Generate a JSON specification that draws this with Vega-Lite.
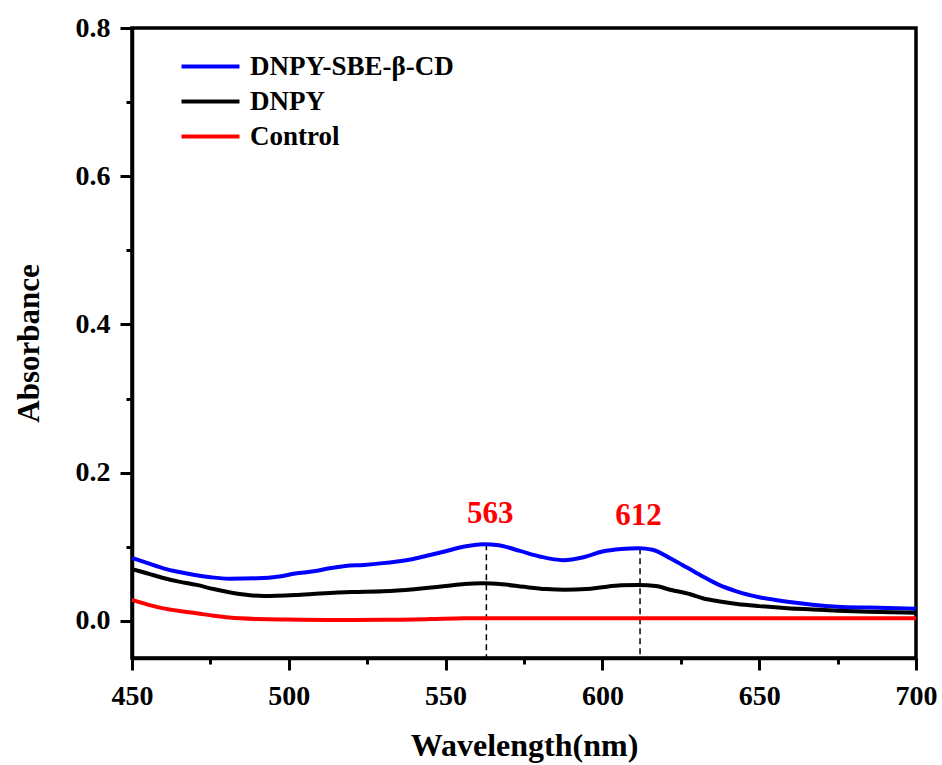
{
  "$schema": "https://vega.github.io/schema/vega-lite/v6.json",
  "width": 784,
  "height": 630,
  "autosize": {"type": "none"},
  "padding": {"left": 132, "top": 28, "right": 26, "bottom": 107},
  "background": "white",
  "config": {
    "view": {"stroke": "black", "strokeWidth": 3.5},
    "font": "Liberation Serif",
    "axis": {
      "domainColor": "black", "domainWidth": 3.5, "tickColor": "black", "tickWidth": 3,
      "labelFont": "Liberation Serif", "labelFontWeight": "bold", "labelFontSize": 28, "labelColor": "black",
      "titleFont": "Liberation Serif", "titleFontWeight": "bold", "titleColor": "black", "grid": false
    }
  },
  "resolve": {"axis": {"x": "independent", "y": "independent"}},
  "datasets": {
    "spectra": [
      {"series": "DNPY-SBE-β-CD", "wl": 450, "a": 0.085},
      {"series": "DNPY-SBE-β-CD", "wl": 455, "a": 0.078},
      {"series": "DNPY-SBE-β-CD", "wl": 460, "a": 0.071},
      {"series": "DNPY-SBE-β-CD", "wl": 465, "a": 0.066},
      {"series": "DNPY-SBE-β-CD", "wl": 470, "a": 0.062},
      {"series": "DNPY-SBE-β-CD", "wl": 475, "a": 0.059},
      {"series": "DNPY-SBE-β-CD", "wl": 481, "a": 0.057},
      {"series": "DNPY-SBE-β-CD", "wl": 490, "a": 0.0575},
      {"series": "DNPY-SBE-β-CD", "wl": 497, "a": 0.060},
      {"series": "DNPY-SBE-β-CD", "wl": 502, "a": 0.064},
      {"series": "DNPY-SBE-β-CD", "wl": 508, "a": 0.067},
      {"series": "DNPY-SBE-β-CD", "wl": 513, "a": 0.071},
      {"series": "DNPY-SBE-β-CD", "wl": 518, "a": 0.074},
      {"series": "DNPY-SBE-β-CD", "wl": 524, "a": 0.0756},
      {"series": "DNPY-SBE-β-CD", "wl": 530, "a": 0.078},
      {"series": "DNPY-SBE-β-CD", "wl": 534, "a": 0.080},
      {"series": "DNPY-SBE-β-CD", "wl": 540, "a": 0.084},
      {"series": "DNPY-SBE-β-CD", "wl": 545, "a": 0.089},
      {"series": "DNPY-SBE-β-CD", "wl": 550, "a": 0.094},
      {"series": "DNPY-SBE-β-CD", "wl": 555.6, "a": 0.100},
      {"series": "DNPY-SBE-β-CD", "wl": 562, "a": 0.1035},
      {"series": "DNPY-SBE-β-CD", "wl": 567, "a": 0.102},
      {"series": "DNPY-SBE-β-CD", "wl": 573.7, "a": 0.0945},
      {"series": "DNPY-SBE-β-CD", "wl": 580, "a": 0.087},
      {"series": "DNPY-SBE-β-CD", "wl": 587.5, "a": 0.082},
      {"series": "DNPY-SBE-β-CD", "wl": 594, "a": 0.086},
      {"series": "DNPY-SBE-β-CD", "wl": 600, "a": 0.0936},
      {"series": "DNPY-SBE-β-CD", "wl": 606, "a": 0.097},
      {"series": "DNPY-SBE-β-CD", "wl": 611.5, "a": 0.098},
      {"series": "DNPY-SBE-β-CD", "wl": 616, "a": 0.096},
      {"series": "DNPY-SBE-β-CD", "wl": 621.6, "a": 0.0846},
      {"series": "DNPY-SBE-β-CD", "wl": 627, "a": 0.072},
      {"series": "DNPY-SBE-β-CD", "wl": 632, "a": 0.060},
      {"series": "DNPY-SBE-β-CD", "wl": 637, "a": 0.049},
      {"series": "DNPY-SBE-β-CD", "wl": 643, "a": 0.0396},
      {"series": "DNPY-SBE-β-CD", "wl": 650, "a": 0.032},
      {"series": "DNPY-SBE-β-CD", "wl": 659, "a": 0.026},
      {"series": "DNPY-SBE-β-CD", "wl": 667, "a": 0.022},
      {"series": "DNPY-SBE-β-CD", "wl": 675, "a": 0.0193},
      {"series": "DNPY-SBE-β-CD", "wl": 685, "a": 0.018},
      {"series": "DNPY-SBE-β-CD", "wl": 700, "a": 0.0165},
      {"series": "DNPY", "wl": 450, "a": 0.070},
      {"series": "DNPY", "wl": 455, "a": 0.064},
      {"series": "DNPY", "wl": 460, "a": 0.058},
      {"series": "DNPY", "wl": 465, "a": 0.053},
      {"series": "DNPY", "wl": 470.6, "a": 0.0486},
      {"series": "DNPY", "wl": 476, "a": 0.043},
      {"series": "DNPY", "wl": 481, "a": 0.0387},
      {"series": "DNPY", "wl": 487, "a": 0.035},
      {"series": "DNPY", "wl": 492, "a": 0.0337},
      {"series": "DNPY", "wl": 502, "a": 0.035},
      {"series": "DNPY", "wl": 510, "a": 0.037},
      {"series": "DNPY", "wl": 520, "a": 0.039},
      {"series": "DNPY", "wl": 530, "a": 0.040},
      {"series": "DNPY", "wl": 540, "a": 0.0428},
      {"series": "DNPY", "wl": 550, "a": 0.047},
      {"series": "DNPY", "wl": 556, "a": 0.050},
      {"series": "DNPY", "wl": 562, "a": 0.0508},
      {"series": "DNPY", "wl": 568, "a": 0.0495},
      {"series": "DNPY", "wl": 575, "a": 0.046},
      {"series": "DNPY", "wl": 582, "a": 0.043},
      {"series": "DNPY", "wl": 588, "a": 0.042},
      {"series": "DNPY", "wl": 595, "a": 0.043},
      {"series": "DNPY", "wl": 600, "a": 0.0455},
      {"series": "DNPY", "wl": 606, "a": 0.048},
      {"series": "DNPY", "wl": 611.5, "a": 0.0486},
      {"series": "DNPY", "wl": 617, "a": 0.047},
      {"series": "DNPY", "wl": 622, "a": 0.0418},
      {"series": "DNPY", "wl": 628, "a": 0.036},
      {"series": "DNPY", "wl": 632, "a": 0.0306},
      {"series": "DNPY", "wl": 638, "a": 0.026},
      {"series": "DNPY", "wl": 643, "a": 0.0229},
      {"series": "DNPY", "wl": 650, "a": 0.020},
      {"series": "DNPY", "wl": 659, "a": 0.0171},
      {"series": "DNPY", "wl": 667, "a": 0.0155},
      {"series": "DNPY", "wl": 675, "a": 0.0139},
      {"series": "DNPY", "wl": 685, "a": 0.0125},
      {"series": "DNPY", "wl": 700, "a": 0.0112},
      {"series": "Control", "wl": 450, "a": 0.0283},
      {"series": "Control", "wl": 455, "a": 0.022},
      {"series": "Control", "wl": 460, "a": 0.017},
      {"series": "Control", "wl": 465, "a": 0.0135},
      {"series": "Control", "wl": 470.6, "a": 0.0104},
      {"series": "Control", "wl": 476, "a": 0.007},
      {"series": "Control", "wl": 481, "a": 0.0045},
      {"series": "Control", "wl": 490, "a": 0.0025},
      {"series": "Control", "wl": 500, "a": 0.0018},
      {"series": "Control", "wl": 513, "a": 0.0013},
      {"series": "Control", "wl": 530, "a": 0.0015},
      {"series": "Control", "wl": 545, "a": 0.0025},
      {"series": "Control", "wl": 556, "a": 0.0036},
      {"series": "Control", "wl": 580, "a": 0.0038},
      {"series": "Control", "wl": 620, "a": 0.0038},
      {"series": "Control", "wl": 660, "a": 0.0036},
      {"series": "Control", "wl": 700, "a": 0.0038}
    ],
    "peaks": [
      {"wl": 563, "top": 0.1035, "label": "563", "lx": 564.2, "ly": 0.132},
      {"wl": 612, "top": 0.098, "label": "612", "lx": 611.5, "ly": 0.1296}
    ]
  },
  "layer": [
    {
      "data": {"name": "peaks"},
      "mark": {"type": "rule", "strokeDash": [6, 4], "strokeWidth": 1.5, "color": "black"},
      "encoding": {
        "x": {
          "field": "wl", "type": "quantitative",
          "scale": {"domain": [450, 700], "nice": false, "zero": false},
          "axis": {"orient": "bottom", "title": null, "values": [475, 525, 575, 625, 675], "tickSize": 6, "labels": false, "domain": false}
        },
        "y": {
          "field": "top", "type": "quantitative",
          "scale": {"domain": [-0.05, 0.8], "nice": false, "zero": false},
          "axis": {"orient": "left", "title": null, "values": [0.1, 0.3, 0.5, 0.7], "tickSize": 6, "labels": false, "domain": false}
        },
        "y2": {"datum": -0.05}
      }
    },
    {
      "data": {"name": "spectra"},
      "mark": {"type": "line", "strokeWidth": 4, "interpolate": "monotone"},
      "encoding": {
        "x": {
          "field": "wl", "type": "quantitative",
          "scale": {"domain": [450, 700], "nice": false, "zero": false},
          "axis": {
            "orient": "bottom",
            "title": "Wavelength(nm)", "titleFontSize": 32, "titlePadding": 20,
            "values": [450, 500, 550, 600, 650, 700],
            "tickSize": 12, "labelPadding": 12, "labelFlush": false, "labelOverlap": false
          }
        },
        "y": {
          "field": "a", "type": "quantitative",
          "scale": {"domain": [-0.05, 0.8], "nice": false, "zero": false},
          "axis": {
            "orient": "left",
            "title": "Absorbance", "titleFontSize": 31, "titlePadding": 30,
            "values": [0, 0.2, 0.4, 0.6, 0.8],
            "format": ".1f",
            "tickSize": 12, "labelPadding": 10, "labelFlush": false, "labelOverlap": false
          }
        },
        "color": {
          "field": "series", "type": "nominal",
          "scale": {"domain": ["DNPY-SBE-β-CD", "DNPY", "Control"], "range": ["#0000ff", "#000000", "#ff0000"]},
          "sort": ["DNPY-SBE-β-CD", "DNPY", "Control"],
          "legend": {
            "title": null, "orient": "none", "legendX": 65, "legendY": 25,
            "symbolType": "M-4,0H4", "symbolSize": 210, "symbolStrokeWidth": 4,
            "labelFont": "Liberation Serif", "labelFontWeight": "bold", "labelFontSize": 27, "labelColor": "black",
            "labelOffset": 26, "rowPadding": 7, "labelLimit": 400
          }
        }
      }
    },
    {
      "data": {"name": "peaks"},
      "mark": {"type": "text", "color": "#ff0000", "fontSize": 31, "fontWeight": "bold", "font": "Liberation Serif", "baseline": "alphabetic", "align": "center"},
      "encoding": {
        "x": {"field": "lx", "type": "quantitative", "axis": null},
        "y": {"field": "ly", "type": "quantitative", "axis": null},
        "text": {"field": "label"}
      }
    }
  ]
}
